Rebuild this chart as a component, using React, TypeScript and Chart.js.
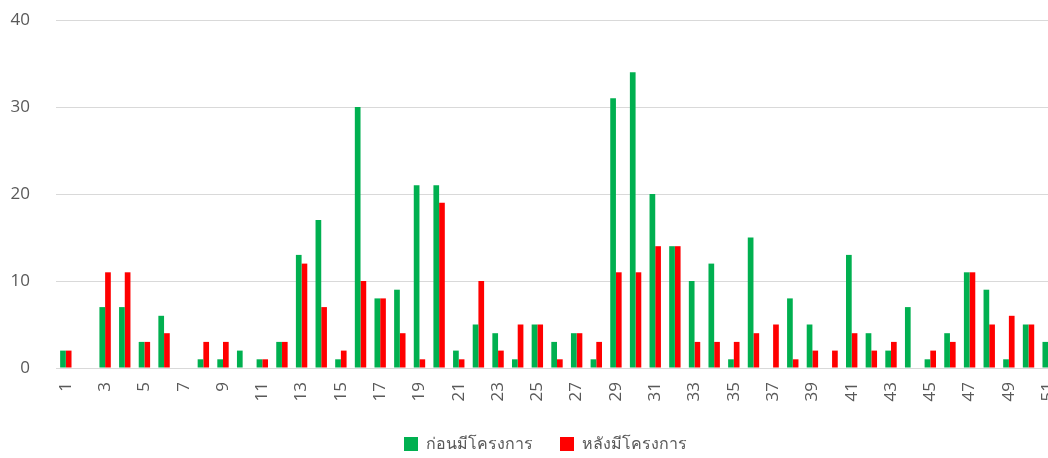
import React, { useEffect, useRef } from "react";
import { Chart, registerables } from "chart.js";

Chart.register(...registerables);

const categories: string[] = Array.from({ length: 51 }, (_, i) => String(i + 1));

const seriesNames = ["ก่อนมีโครงการ", "หลังมีโครงการ"];

const beforeValues = [
  2, 0, 7, 7, 3, 6, 0, 1, 1, 2,
  1, 3, 13, 17, 1, 30, 8, 9, 21, 21,
  2, 5, 4, 1, 5, 3, 4, 1, 31, 34,
  20, 14, 10, 12, 1, 15, 0, 8, 5, 0,
  13, 4, 2, 7, 1, 4, 11, 9, 1, 5,
  3,
];

const afterValues = [
  2, 0, 11, 11, 3, 4, 0, 3, 3, 0,
  1, 3, 12, 7, 2, 10, 8, 4, 1, 19,
  1, 10, 2, 5, 5, 1, 4, 3, 11, 11,
  14, 14, 3, 3, 3, 4, 5, 1, 2, 2,
  4, 2, 3, 0, 2, 3, 11, 5, 6, 5,
  3,
];

const yTicks = [0, 10, 20, 30, 40];

const colors = ["#00B050", "#FF0000"];
const FONT = "'Open Sans', 'Noto Sans', sans-serif";
const TEXT = "#595959";

const legendPlugin = {
  id: "customLegend",
  afterDraw(chart: any) {
    const ctx = chart.ctx;
    ctx.save();
    ctx.font = `16px ${FONT}`;
    ctx.textBaseline = "middle";
    ctx.textAlign = "left";
    const cy = 444;
    let x = 404;
    chart.data.datasets.forEach((ds: any) => {
      ctx.fillStyle = ds.backgroundColor;
      ctx.fillRect(x, cy - 7, 14, 14);
      ctx.fillStyle = TEXT;
      ctx.fillText(ds.label, x + 22, cy);
      x += 22 + ctx.measureText(ds.label).width + 27;
    });
    ctx.restore();
  },
};

export default function App() {
  const ref = useRef<HTMLCanvasElement | null>(null);
  useEffect(() => {
    if (!ref.current) return;
    const chart = new Chart(ref.current, {
      type: "bar",
      data: {
        labels: categories,
        datasets: [
          { label: seriesNames[0], data: beforeValues, backgroundColor: colors[0] },
          { label: seriesNames[1], data: afterValues, backgroundColor: colors[1] },
        ],
      },
      options: {
        responsive: false,
        animation: false,
        layout: { padding: { top: 20, bottom: 40, left: 0, right: 0 } },
        datasets: {
          bar: { barPercentage: 1, categoryPercentage: 0.58 },
        },
        plugins: {
          legend: { display: false },
          tooltip: { enabled: false },
        },
        scales: {
          x: {
            grid: { display: false, drawTicks: false },
            border: { display: true, color: "#D9D9D9", width: 1 },
            ticks: {
              autoSkip: false,
              minRotation: 90,
              maxRotation: 90,
              padding: 14,
              color: TEXT,
              font: { family: FONT, size: 17 },
              callback: (_v: any, i: number) => (i % 2 === 0 ? categories[i] : ""),
            },
            afterFit: (scale: any) => {
              scale.height = 50;
              scale.paddingLeft = 0;
              scale.paddingRight = 0;
            },
          },
          y: {
            min: 0,
            max: 40,
            afterBuildTicks: (scale: any) => {
              scale.ticks = yTicks.map((v) => ({ value: v }));
            },
            grid: { color: "#D9D9D9", drawTicks: false },
            border: { display: false },
            ticks: {
              padding: 26,
              color: TEXT,
              font: { family: FONT, size: 17 },
            },
            afterFit: (scale: any) => {
              scale.width = 56;
              scale.paddingTop = 0;
              scale.paddingBottom = 0;
            },
          },
        },
      },
      plugins: [legendPlugin],
    });
    return () => chart.destroy();
  }, []);

  return (
    <div
      style={{
        position: "fixed",
        left: 0,
        top: 0,
        width: 1048,
        height: 458,
        overflow: "hidden",
        background: "#fff",
      }}
    >
      <canvas ref={ref} width={1058} height={458} />
    </div>
  );
}
